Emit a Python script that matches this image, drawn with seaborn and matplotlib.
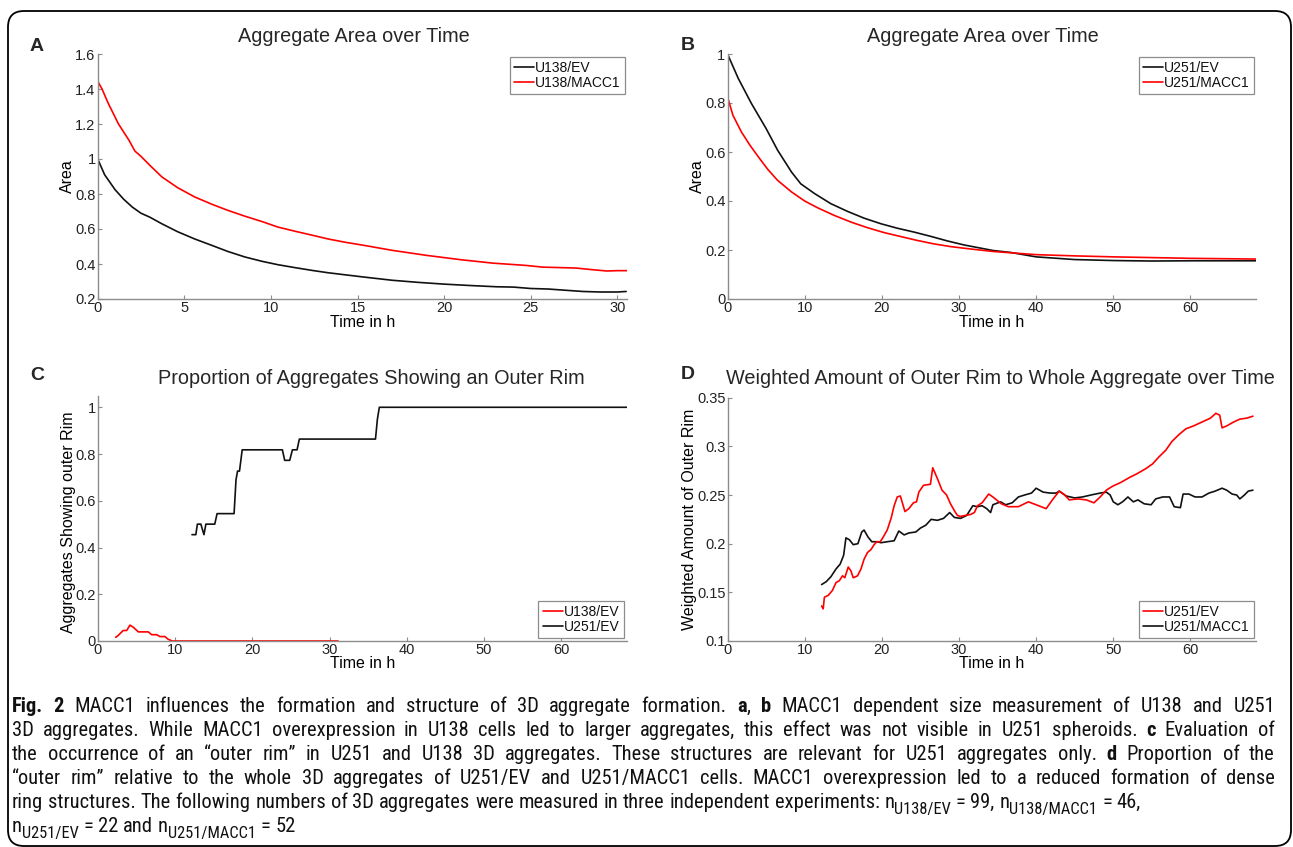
import numpy as np
import pandas as pd
import matplotlib
matplotlib.use("Agg")
import matplotlib.pyplot as plt
import seaborn as sns
from matplotlib.patches import FancyBboxPatch
from matplotlib.font_manager import FontProperties, fontManager
from matplotlib.ticker import FuncFormatter

# ------------------------------------------------------------------ data
# Panel A : Aggregate area over time (U138)
A_ev_time = [0, 0.4, 1.0, 1.5, 2.0, 2.5, 3.0, 3.7, 4.6, 5.6, 6.6, 7.5, 8.5, 9.5,
             10.4, 11.4, 12.4, 13.3, 14.3, 15.4, 17, 18.5, 20, 21.5, 23, 24, 25,
             26, 27, 28, 29, 30, 30.5]
A_ev = [1.0, 0.91, 0.825, 0.77, 0.725, 0.69, 0.668, 0.63, 0.585, 0.543, 0.506,
        0.472, 0.44, 0.415, 0.396, 0.379, 0.363, 0.35, 0.338, 0.325, 0.307,
        0.295, 0.285, 0.277, 0.27, 0.268, 0.26, 0.257, 0.25, 0.243, 0.24, 0.24,
        0.243]
A_macc1_time = [0, 0.25, 0.6, 1.2, 1.8, 2.15, 2.5, 3.0, 3.7, 4.6, 5.6, 6.6, 7.5,
                8.5, 9.5, 10.4, 11.4, 12.4, 13.3, 14.3, 15.4, 17, 19, 21, 22.8,
                24.7, 25.7, 27.6, 28.6, 29.4, 30, 30.55]
A_macc1 = [1.445, 1.40, 1.32, 1.20, 1.108, 1.045, 1.015, 0.965, 0.898, 0.837,
           0.783, 0.741, 0.707, 0.673, 0.642, 0.611, 0.587, 0.564, 0.543, 0.524,
           0.506, 0.478, 0.449, 0.424, 0.405, 0.392, 0.382, 0.377, 0.367, 0.36,
           0.362, 0.362]

# Panel B : Aggregate area over time (U251)
B_ev_time = [0, 1.4, 3.1, 5.0, 6.5, 8.3, 9.5, 11.3, 13.4, 15.6, 17.7, 19.9, 22,
             24.2, 26.3, 28.5, 30.6, 34.4, 36.7, 40, 45, 50, 55, 60, 68.5]
B_ev = [1.0, 0.90, 0.798, 0.696, 0.607, 0.518, 0.47, 0.43, 0.389, 0.357, 0.33,
        0.307, 0.289, 0.273, 0.256, 0.237, 0.221, 0.198, 0.19, 0.172, 0.161,
        0.157, 0.155, 0.156, 0.156]
B_macc1_time = [0, 0.7, 1.8, 2.9, 4.0, 5.25, 6.5, 8.3, 10, 11.7, 13.85, 16,
                18.15, 20.3, 22.45, 24.6, 26.75, 28.9, 31, 34.4, 37, 40, 45, 50,
                55, 60, 68.5]
B_macc1 = [0.825, 0.75, 0.682, 0.628, 0.58, 0.528, 0.484, 0.437, 0.40, 0.372,
           0.341, 0.314, 0.291, 0.271, 0.255, 0.239, 0.225, 0.214, 0.206, 0.194,
           0.188, 0.181, 0.176, 0.172, 0.169, 0.166, 0.163]

# Panel C : proportion of aggregates showing an outer rim
C_u138_time = [2.33, 2.6, 3.3, 3.75, 4.18, 4.6, 5.26, 6.55, 6.98, 7.63, 8.06,
               8.7, 9.14, 9.65, 31.1]
C_u138 = [0.016, 0.022, 0.045, 0.045, 0.068, 0.059, 0.039, 0.039, 0.027,
          0.027, 0.019, 0.019, 0.007, 0.0, 0.0]
C_u251_time = [12.2, 12.7, 12.9, 13.35, 13.75, 14.0, 15.15, 15.45, 17.65, 17.9,
               18.1, 18.35, 18.7, 23.9, 24.2, 24.85, 25.2, 25.8, 26.1, 35.95,
               36.2, 36.45, 68.5]
C_u251 = [0.455, 0.455, 0.5, 0.5, 0.455, 0.5, 0.5, 0.545, 0.545, 0.69, 0.727,
          0.727, 0.818, 0.818, 0.773, 0.773, 0.818, 0.818, 0.864, 0.864, 0.95,
          1.0, 1.0]

# Panel D : weighted amount of outer rim
D_ev_time = [12.2, 12.4, 12.56, 13.07, 13.6, 14.06, 14.5, 14.9, 15.2, 15.65,
             16.0, 16.3, 16.86, 17.3, 17.7, 18.15, 18.6, 19.0, 19.35, 19.8,
             20.2, 20.7, 21.2, 21.6, 22.0, 22.4, 22.7, 23.0, 23.5, 24.1, 24.5,
             24.8, 25.4, 26.3, 26.6, 27.2, 27.8, 28.4, 28.9, 29.4, 29.8, 30.2,
             30.8, 31.5, 32.0, 32.4, 33.0, 33.85, 34.4, 35.5, 36.4, 37.7, 39.0,
             40.0, 41.3, 42.2, 43.0, 43.7, 44.3, 45.4, 46.5, 47.5, 48.3, 49.1,
             49.9, 51.0, 52.1, 53.1, 54.2, 55.1, 55.9, 56.8, 57.6, 58.5, 59.4,
             60.4, 61.5, 62.6, 63.3, 63.8, 64.1, 64.7, 65.6, 66.4, 67.3, 68.1]
D_ev = [0.136, 0.133, 0.145, 0.147, 0.152, 0.160, 0.162, 0.167, 0.165, 0.176,
        0.172, 0.165, 0.167, 0.174, 0.184, 0.191, 0.194, 0.199, 0.202, 0.202,
        0.207, 0.214, 0.226, 0.239, 0.248, 0.249, 0.241, 0.233, 0.236, 0.242,
        0.243, 0.253, 0.26, 0.261, 0.278, 0.267, 0.255, 0.25, 0.241, 0.234,
        0.229, 0.228, 0.229, 0.230, 0.232, 0.239, 0.242, 0.251, 0.248, 0.241,
        0.238, 0.238, 0.243, 0.240, 0.236, 0.246, 0.254, 0.250, 0.245, 0.246,
        0.245, 0.242, 0.248, 0.255, 0.259, 0.263, 0.268, 0.272, 0.277, 0.282,
        0.289, 0.296, 0.305, 0.312, 0.318, 0.321, 0.325, 0.329, 0.334, 0.332,
        0.319, 0.321, 0.325, 0.328, 0.329, 0.331]
D_macc1_time = [12.2, 12.8, 13.4, 14.06, 14.6, 15.05, 15.35, 15.8, 16.3, 16.9,
                17.4, 17.7, 18.2, 18.7, 19.4, 19.9, 20.7, 21.6, 22.2, 22.9, 23.5,
                24.4, 25.0, 25.7, 26.4, 27.2, 28.0, 28.8, 29.4, 30.2, 31.0, 31.8,
                32.4, 33.0, 33.6, 34.1, 34.4, 35.4, 36.05, 36.9, 37.7, 38.5,
                39.4, 40.0, 40.9, 41.8, 42.6, 43.0, 43.9, 45.0, 46.0, 47.1, 48.3,
                49.1, 49.6, 50.0, 50.6, 51.2, 51.9, 52.6, 53.2, 54.0, 54.9, 55.5,
                56.4, 57.3, 57.9, 58.7, 59.05, 59.8, 60.6, 61.5, 62.4, 63.2, 64.1,
                64.7, 65.4, 66.0, 66.4, 67.0, 67.5, 68.1]
D_macc1 = [0.158, 0.161, 0.166, 0.174, 0.179, 0.188, 0.206, 0.204, 0.199, 0.2,
           0.212, 0.214, 0.207, 0.202, 0.202, 0.201, 0.202, 0.203, 0.213, 0.209,
           0.211, 0.212, 0.216, 0.219, 0.225, 0.224, 0.226, 0.232, 0.227, 0.226,
           0.229, 0.239, 0.238, 0.239, 0.236, 0.232, 0.240, 0.243, 0.240, 0.242,
           0.248, 0.250, 0.252, 0.257, 0.253, 0.252, 0.252, 0.254, 0.249, 0.247,
           0.248, 0.250, 0.252, 0.253, 0.250, 0.243, 0.240, 0.243, 0.248, 0.243,
           0.245, 0.241, 0.240, 0.246, 0.248, 0.248, 0.238, 0.237, 0.251, 0.251,
           0.248, 0.248, 0.252, 0.254, 0.257, 0.255, 0.251, 0.250, 0.246, 0.250,
           0.254, 0.255]

# ticks
A_xticks = [0, 5, 10, 15, 20, 25, 30]
A_yticks = [0.2, 0.4, 0.6, 0.8, 1.0, 1.2, 1.4, 1.6]
B_xticks = [0, 10, 20, 30, 40, 50, 60]
B_yticks = [0, 0.2, 0.4, 0.6, 0.8, 1.0]
C_yticks = [0, 0.2, 0.4, 0.6, 0.8, 1.0]
D_yticks = [0.1, 0.15, 0.2, 0.25, 0.3, 0.35]

# text
TITLE_AB = "Aggregate Area over Time"
TITLE_C = "Proportion of Aggregates Showing an Outer Rim"
TITLE_D = "Weighted Amount of Outer Rim to Whole Aggregate over Time"
XLABEL = "Time in h"
CAPTION_LINES = [
    [("Fig. 2", "b"), (" MACC1 influences the formation and structure of 3D aggregate formation. ", "n"),
     ("a", "b"), (", ", "n"), ("b", "b"), (" MACC1 dependent size measurement of U138 and U251", "n")],
    [("3D aggregates. While MACC1 overexpression in U138 cells led to larger aggregates, this effect was not visible in U251 spheroids. ", "n"),
     ("c", "b"), (" Evaluation of", "n")],
    [("the occurrence of an \u201couter rim\u201d in U251 and U138 3D aggregates. These structures are relevant for U251 aggregates only. ", "n"),
     ("d", "b"), (" Proportion of the", "n")],
    [("\u201couter rim\u201d relative to the whole 3D aggregates of U251/EV and U251/MACC1 cells. MACC1 overexpression led to a reduced formation of dense", "n")],
    [("ring structures. The following numbers of 3D aggregates were measured in three independent experiments: n", "n"),
     ("U138/EV", "s"), (" = 99, n", "n"), ("U138/MACC1", "s"), (" = 46,", "n")],
    [("n", "n"), ("U251/EV", "s"), (" = 22 and n", "n"), ("U251/MACC1", "s"), (" = 52", "n")],
]

# ------------------------------------------------------------------ figure
W, H = 1293, 847
sns.set_style("white")
plt.rcParams['font.family'] = ['Liberation Sans', 'DejaVu Sans']

fig = plt.figure(figsize=(W / 100, H / 100), dpi=100)
fig.patch.set_facecolor("white")


def fx(px):
    return px / W


def fy(py):
    return 1 - py / H


BOXES = {}


def make_ax(name, l, t, r, b):
    ax = fig.add_axes([fx(l), fy(b), (r - l) / W, (b - t) / H])
    BOXES[name] = (l, t, r, b)
    return ax


axA = make_ax("A", 97.7, 54, 627, 299)
axB = make_ax("B", 727.5, 54, 1256, 299)
axC = make_ax("C", 97.7, 395.6, 627, 641)
axD = make_ax("D", 727.5, 397.7, 1256, 641)

RED = "#ff0000"
BLACK = "#111111"
GRAY = "#8c8c8c"
LW = 1.2


def draw(ax, t, v, color, label):
    df = pd.DataFrame({"t": t, "v": v})
    sns.lineplot(data=df, x="t", y="v", ax=ax, color=color, linewidth=LW,
                 estimator=None, sort=False, label=label, legend=False)
    return ax.lines[-1]


hA_ev = draw(axA, A_ev_time, A_ev, BLACK, "U138/EV")
hA_mc = draw(axA, A_macc1_time, A_macc1, RED, "U138/MACC1")
hB_ev = draw(axB, B_ev_time, B_ev, BLACK, "U251/EV")
hB_mc = draw(axB, B_macc1_time, B_macc1, RED, "U251/MACC1")
hC_138 = draw(axC, C_u138_time, C_u138, RED, "U138/EV")
hC_251 = draw(axC, C_u251_time, C_u251, BLACK, "U251/EV")
hD_mc = draw(axD, D_macc1_time, D_macc1, BLACK, "U251/MACC1")
hD_ev = draw(axD, D_ev_time, D_ev, RED, "U251/EV")

fmt = FuncFormatter(lambda v, p: f"{v:g}")


def style(ax, name, xlim, ylim, xticks, yticks, ylabel, ylab_right_px, ylab_size,
          xlab_top_px, ylab_center=0.5):
    ax.set_xlim(*xlim)
    ax.set_ylim(*ylim)
    ax.set_xticks(xticks)
    ax.set_yticks(yticks)
    ax.xaxis.set_major_formatter(fmt)
    ax.yaxis.set_major_formatter(fmt)
    ax.grid(False)
    for s in ["top", "right"]:
        ax.spines[s].set_visible(False)
    for s in ["left", "bottom"]:
        ax.spines[s].set_visible(True)
        ax.spines[s].set_color(GRAY)
        ax.spines[s].set_linewidth(1.0)
    ax.tick_params(axis="both", direction="in", length=3, width=0.8, color=GRAY,
                   labelsize=10.5, labelcolor="#222222", pad=1.5,
                   left=True, bottom=True, top=False, right=False)
    l, t, r, b = BOXES[name]
    ax.set_xlabel(XLABEL, fontsize=11.5, color="black")
    ax.xaxis.set_label_coords(0.5, -(xlab_top_px - b) / (b - t))
    ax.set_ylabel(ylabel, fontsize=ylab_size, color="black")
    ax.yaxis.set_label_coords((ylab_right_px - l) / (r - l), ylab_center)


style(axA, "A", (0, 30.55), (0.2, 1.6), A_xticks, A_yticks, "Area", 75, 11.5, 315)
style(axB, "B", (0, 68.5), (0, 1.0), B_xticks, B_yticks, "Area", 705, 11.5, 315)
style(axC, "C", (0, 68.5), (0, 1.05), B_xticks, C_yticks,
      "Aggregates Showing outer Rim", 76, 11.5, 656, 0.485)
style(axD, "D", (0, 68.5), (0.1, 0.35), B_xticks, D_yticks,
      "Weighted Amount of Outer Rim", 697, 11.5, 656)


def legend(ax, handles, labels, corner_px, loc):
    leg = ax.legend(handles, labels, loc=loc,
                    bbox_to_anchor=(fx(corner_px[0]), fy(corner_px[1])),
                    bbox_transform=fig.transFigure, fontsize=10, frameon=True,
                    fancybox=False, edgecolor=GRAY, framealpha=1,
                    borderpad=0.3, labelspacing=0.05, handlelength=1.45,
                    handletextpad=0.1, borderaxespad=0)
    leg.get_frame().set_linewidth(0.9)
    for txt in leg.get_texts():
        txt.set_color("#111111")


legend(axA, [hA_ev, hA_mc], ["U138/EV", "U138/MACC1"], (625, 57), "upper right")
legend(axB, [hB_ev, hB_mc], ["U251/EV", "U251/MACC1"], (1254, 57), "upper right")
legend(axC, [hC_138, hC_251], ["U138/EV", "U251/EV"], (624, 638), "lower right")
legend(axD, [hD_ev, hD_mc], ["U251/EV", "U251/MACC1"], (1254, 638), "lower right")

# titles and panel letters
fig.text(fx(354), fy(42), TITLE_AB, ha="center", va="baseline", fontsize=14.3)
fig.text(fx(983), fy(41.5), TITLE_AB, ha="center", va="baseline", fontsize=14.3)
fig.text(fx(371), fy(383.7), TITLE_C, ha="center", va="baseline", fontsize=14.3)
fig.text(fx(1000), fy(383.7), TITLE_D, ha="center", va="baseline", fontsize=14.3)
for letter, (px, py) in zip("ABCD", [(30, 51), (681, 50), (30, 380), (681, 379)]):
    fig.text(fx(px), fy(py), letter, ha="left", va="baseline", fontsize=14,
             fontweight="bold")

# ------------------------------------------------------------------ caption
# prefer a narrow face for the caption (the original uses a condensed type)
_names = {f.name for f in fontManager.ttflist}
CAP_STRETCH = "normal"
if "Liberation Sans Narrow" in _names:
    CAP_FAMILY = ["Liberation Sans Narrow", "DejaVu Sans"]
    NARROW = True
elif "Roboto Condensed" in _names:
    CAP_FAMILY = ["Roboto Condensed", "DejaVu Sans"]
    NARROW = True
elif any(f.name == "DejaVu Sans" and "condensed" in str(f.stretch) for f in fontManager.ttflist):
    CAP_FAMILY = ["DejaVu Sans"]
    CAP_STRETCH = "condensed"
    NARROW = True
else:
    CAP_FAMILY = ["Roboto", "DejaVu Sans"]
    NARROW = False

renderer = fig.canvas.get_renderer()
SUB_SCALE = 0.8


def props(style_key, size):
    if style_key == "b":
        return FontProperties(family=CAP_FAMILY, weight="bold", size=size, stretch=CAP_STRETCH)
    if style_key == "s":
        return FontProperties(family=CAP_FAMILY, size=size * SUB_SCALE, stretch=CAP_STRETCH)
    return FontProperties(family=CAP_FAMILY, size=size, stretch=CAP_STRETCH)


def tw(s, style_key, size):
    w, h, d = renderer.get_text_width_height_descent(s, props(style_key, size), ismath=False)
    return w


def words_of(pieces):
    words, cur = [], []
    for text, st in pieces:
        parts = text.split(" ")
        for i, p in enumerate(parts):
            if i > 0 and cur:
                words.append(cur)
                cur = []
            if p:
                cur.append((p, st))
    if cur:
        words.append(cur)
    return words


def natural_width(pieces, size):
    ws = words_of(pieces)
    sp = tw("a a", "n", size) - tw("aa", "n", size)
    return sum(sum(tw(t, s, size) for t, s in w) for w in ws) + sp * (len(ws) - 1)


X0, X1 = 12, 1275
LINE5_END = 1040
base = 10.0
maxw = max(natural_width(CAPTION_LINES[i], base) for i in range(4))
size_full = base * (X1 - X0) / maxw * 0.995
size_l5 = base * (LINE5_END - X0) / natural_width(CAPTION_LINES[4], base)
CAP_SIZE = min(size_full, 0.5 * (size_full + size_l5))

BASE_Y0, LINE_STEP = 712, 24
for k, pieces in enumerate(CAPTION_LINES):
    ws = words_of(pieces)
    widths = [sum(tw(t, s, CAP_SIZE) for t, s in w) for w in ws]
    if k < 4:
        space = (X1 - X0 - sum(widths)) / (len(ws) - 1)
    else:
        space = tw("a a", "n", CAP_SIZE) - tw("aa", "n", CAP_SIZE)
    y = BASE_Y0 + LINE_STEP * k
    x = X0
    for w, ww in zip(ws, widths):
        for t, s in w:
            yy = y + (CAP_SIZE * 0.28 * 100 / 72 if s == "s" else 0)
            fig.text(fx(x), fy(yy), t, fontproperties=props(s, CAP_SIZE),
                     ha="left", va="baseline", color="#111111")
            x += tw(t, s, CAP_SIZE)
        x += space

# rounded frame
frame = FancyBboxPatch((0.08, 0.01), 12.83, 8.35,
                       boxstyle="round,pad=0,rounding_size=0.16",
                       transform=fig.dpi_scale_trans, fill=False,
                       edgecolor="black", linewidth=1.3)
fig.add_artist(frame)

fig.savefig("out.png", dpi=100, facecolor="white")
